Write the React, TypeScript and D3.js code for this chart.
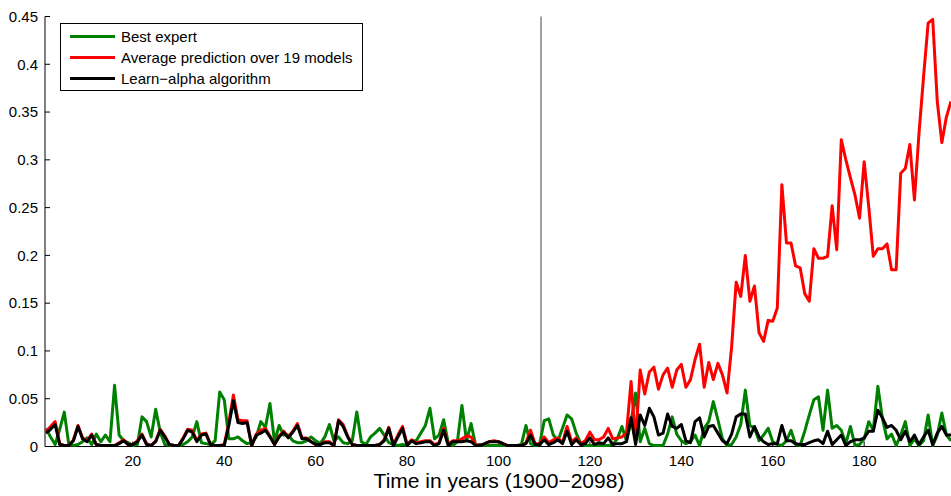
import React from 'react'
import * as d3 from 'd3'

// years 1..199 (1900-2098)
const bestExpert = [
  0.019, 0.010, 0.002, 0.018, 0.036, 0.002, 0.001, 0.002, 0.005, 0.009,
  0.002, 0.013, 0.005, 0.012, 0.005, 0.064, 0.012, 0.006, 0.004, 0.001,
  0.002, 0.031, 0.026, 0.010, 0.039, 0.015, 0.002, 0.001, 0.001, 0.001,
  0.002, 0.005, 0.010, 0.026, 0.004, 0.003, 0.002, 0.006, 0.057, 0.049,
  0.008, 0.008, 0.010, 0.006, 0.003, 0.004, 0.010, 0.026, 0.020, 0.045,
  0.005, 0.022, 0.012, 0.012, 0.006, 0.004, 0.004, 0.006, 0.010, 0.006,
  0.003, 0.010, 0.023, 0.006, 0.010, 0.004, 0.003, 0.006, 0.036, 0.005,
  0.002, 0.010, 0.014, 0.019, 0.012, 0.004, 0.002, 0.001, 0.002, 0.001,
  0.006, 0.006, 0.014, 0.022, 0.040, 0.008, 0.012, 0.028, 0.004, 0.001,
  0.005, 0.043, 0.006, 0.024, 0.001, 0.002, 0.001, 0.001, 0.001, 0.001,
  0.001, 0.001, 0.001, 0.001, 0.002, 0.022, 0.003, 0.001, 0.002, 0.027,
  0.029, 0.012, 0.006, 0.019, 0.033, 0.029, 0.014, 0.003, 0.001, 0.001,
  0.001, 0.001, 0.001, 0.001, 0.002, 0.008, 0.021, 0.006, 0.026, 0.056,
  0.005, 0.019, 0.003, 0.001, 0.001, 0.001, 0.013, 0.031, 0.013, 0.006,
  0.003, 0.005, 0.012, 0.001, 0.019, 0.026, 0.047, 0.028, 0.008, 0.001,
  0.002, 0.010, 0.023, 0.059, 0.022, 0.019, 0.006, 0.012, 0.019, 0.005,
  0.002, 0.001, 0.006, 0.017, 0.002, 0.001, 0.016, 0.033, 0.049, 0.052,
  0.017, 0.059, 0.019, 0.022, 0.017, 0.003, 0.021, 0.001, 0.002, 0.008,
  0.026, 0.017, 0.063, 0.029, 0.008, 0.013, 0.001, 0.012, 0.026, 0.001,
  0.008, 0.001, 0.006, 0.033, 0.001, 0.012, 0.035, 0.012, 0.006,
]

const averagePrediction = [
  0.016, 0.021, 0.026, 0.003, 0.001, 0.001, 0.007, 0.022, 0.009, 0.006,
  0.013, 0.002, 0.001, 0.001, 0.001, 0.001, 0.004, 0.007, 0.002, 0.002,
  0.006, 0.013, 0.003, 0.001, 0.006, 0.018, 0.011, 0.002, 0.001, 0.001,
  0.009, 0.018, 0.017, 0.006, 0.013, 0.014, 0.002, 0.001, 0.001, 0.002,
  0.025, 0.054, 0.028, 0.027, 0.027, 0.001, 0.013, 0.017, 0.019, 0.011,
  0.002, 0.011, 0.016, 0.010, 0.016, 0.024, 0.009, 0.009, 0.005, 0.002,
  0.002, 0.005, 0.005, 0.001, 0.028, 0.023, 0.011, 0.002, 0.001, 0.001,
  0.001, 0.001, 0.001, 0.002, 0.007, 0.020, 0.002, 0.012, 0.021, 0.002,
  0.007, 0.004, 0.005, 0.006, 0.006, 0.002, 0.004, 0.019, 0.002, 0.006,
  0.006, 0.008, 0.011, 0.010, 0.002, 0.001, 0.003, 0.005, 0.006, 0.005,
  0.003, 0.001, 0.001, 0.001, 0.001, 0.004, 0.017, 0.003, 0.003, 0.010,
  0.004, 0.007, 0.009, 0.004, 0.021, 0.005, 0.009, 0.003, 0.006, 0.015,
  0.007, 0.007, 0.010, 0.019, 0.008, 0.009, 0.010, 0.014, 0.068, 0.006,
  0.080, 0.055, 0.078, 0.083, 0.060, 0.075, 0.082, 0.062, 0.080, 0.086,
  0.062, 0.070, 0.091, 0.107, 0.062, 0.088, 0.070, 0.087, 0.075, 0.056,
  0.104, 0.172, 0.157, 0.200, 0.152, 0.168, 0.119, 0.110, 0.132, 0.131,
  0.145, 0.274, 0.213, 0.213, 0.189, 0.187, 0.160, 0.152, 0.207, 0.197,
  0.197, 0.199, 0.252, 0.206, 0.321, 0.300, 0.281, 0.263, 0.239, 0.298,
  0.251, 0.199, 0.207, 0.207, 0.212, 0.185, 0.185, 0.286, 0.291, 0.316,
  0.258, 0.328, 0.387, 0.443, 0.447, 0.361, 0.318, 0.345, 0.361,
]

const learnAlpha = [
  0.014, 0.018, 0.023, 0.002, 0.001, 0.001, 0.006, 0.021, 0.008, 0.005,
  0.012, 0.002, 0.001, 0.001, 0.001, 0.001, 0.003, 0.006, 0.002, 0.002,
  0.005, 0.012, 0.002, 0.001, 0.005, 0.017, 0.010, 0.002, 0.001, 0.001,
  0.008, 0.017, 0.015, 0.005, 0.012, 0.013, 0.002, 0.001, 0.001, 0.001,
  0.022, 0.048, 0.025, 0.024, 0.025, 0.001, 0.012, 0.014, 0.017, 0.010,
  0.002, 0.010, 0.015, 0.009, 0.015, 0.022, 0.008, 0.008, 0.005, 0.002,
  0.002, 0.004, 0.004, 0.001, 0.027, 0.021, 0.010, 0.002, 0.001, 0.001,
  0.001, 0.001, 0.001, 0.002, 0.006, 0.019, 0.001, 0.010, 0.019, 0.001,
  0.006, 0.003, 0.004, 0.005, 0.005, 0.001, 0.003, 0.017, 0.001, 0.005,
  0.005, 0.005, 0.006, 0.005, 0.001, 0.001, 0.003, 0.005, 0.005, 0.005,
  0.003, 0.001, 0.001, 0.001, 0.001, 0.003, 0.012, 0.002, 0.002, 0.007,
  0.002, 0.004, 0.007, 0.003, 0.016, 0.002, 0.007, 0.002, 0.003, 0.009,
  0.002, 0.004, 0.003, 0.009, 0.002, 0.003, 0.003, 0.005, 0.030, 0.002,
  0.033, 0.022, 0.040, 0.031, 0.012, 0.014, 0.034, 0.021, 0.019, 0.023,
  0.006, 0.004, 0.026, 0.030, 0.010, 0.021, 0.022, 0.014, 0.006, 0.003,
  0.013, 0.031, 0.034, 0.034, 0.010, 0.021, 0.010, 0.005, 0.002, 0.003,
  0.003, 0.022, 0.006, 0.006, 0.003, 0.002, 0.002, 0.004, 0.006, 0.007,
  0.003, 0.016, 0.002, 0.007, 0.012, 0.001, 0.005, 0.007, 0.007, 0.009,
  0.016, 0.016, 0.038, 0.030, 0.020, 0.022, 0.017, 0.007, 0.016, 0.005,
  0.012, 0.002, 0.010, 0.017, 0.002, 0.014, 0.021, 0.012, 0.012,
]

const seriesNames = ['Best expert', 'Average prediction over 19 models', 'Learn\u2212alpha algorithm']
const seriesColors = ['#008000', '#ff0000', '#000000']
const xTicks = [20, 40, 60, 80, 100, 120, 140, 160, 180]
const yTicks = [0, 0.05, 0.1, 0.15, 0.2, 0.25, 0.3, 0.35, 0.4, 0.45]
const splitYear = 109.3

const W = 951
const H = 496
const FONT = 'Liberation Sans, Arial, Helvetica, sans-serif'

export default function App() {
  const x = d3.scaleLinear().domain([1, 199]).range([46, 951])
  const y = d3.scaleLinear().domain([0, 0.45]).range([446.5, 16.5])
  const axisLeft = 45
  const y0 = y(0)

  const line = d3.line<number>()
    .x((_, i) => x(i + 1))
    .y((d) => y(d))

  const series = [bestExpert, averagePrediction, learnAlpha]

  return (
    <div style={{ position: 'absolute', left: 0, top: 0 }}>
      <svg width={W} height={H} style={{ display: 'block', background: '#fff' }}>
        {/* axes */}
        <line x1={axisLeft} x2={axisLeft} y1={y(0.45)} y2={y0} stroke="#000" strokeWidth={1} />
        <line x1={axisLeft} x2={W} y1={y0} y2={y0} stroke="#000" strokeWidth={1} />
        {yTicks.map((t) => (
          <g key={'y' + t}>
            <line x1={axisLeft} x2={axisLeft + 5} y1={y(t)} y2={y(t)} stroke="#000" />
            <text x={axisLeft - 7} y={y(t)} dy="0.35em" textAnchor="end"
              fontFamily={FONT} fontSize={15}>{d3.format('~g')(t)}</text>
          </g>
        ))}
        {xTicks.map((t) => (
          <g key={'x' + t}>
            <line x1={x(t)} x2={x(t)} y1={y0} y2={y0 - 5} stroke="#000" />
            <text x={x(t)} y={y0 + 19} textAnchor="middle"
              fontFamily={FONT} fontSize={15}>{t}</text>
          </g>
        ))}
        <text x={499} y={488} textAnchor="middle" fontFamily={FONT} fontSize={21}>
          Time in years (1900{'\u2212'}2098)
        </text>

        {/* train / test split */}
        <line x1={x(splitYear)} x2={x(splitYear)} y1={y(0.45)} y2={y0} stroke="#444" strokeWidth={1} />

        {series.map((s, i) => (
          <path key={i} d={line(s) || ''} fill="none" stroke={seriesColors[i]}
            strokeWidth={3} strokeLinejoin="round" />
        ))}

        {/* legend */}
        <g>
          <rect x={60.5} y={23.5} width={302} height={67} fill="#fff" stroke="#000" strokeWidth={1} />
          {seriesNames.map((n, i) => (
            <g key={n} transform={`translate(0,${36.5 + i * 21})`}>
              <line x1={70} x2={115} y1={0} y2={0} stroke={seriesColors[i]} strokeWidth={3} />
              <text x={121} y={0} dy="0.35em" fontFamily={FONT} fontSize={15}>{n}</text>
            </g>
          ))}
        </g>
      </svg>
    </div>
  )
}
